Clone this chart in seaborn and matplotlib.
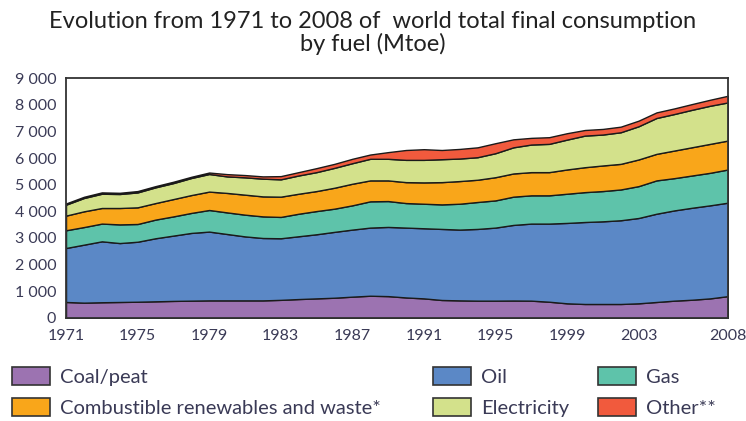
import numpy as np
import pandas as pd
import seaborn as sns
import matplotlib
matplotlib.use("Agg")
import matplotlib.pyplot as plt
from matplotlib.patches import Patch

years = list(range(1971, 2009))

# Mtoe per fuel
coal = [600, 575, 590, 600, 610, 625, 640, 650, 660, 660, 660, 660, 680, 710,
        735, 760, 800, 835, 820, 770, 735, 675, 660, 650, 650, 655, 650, 610,
        550, 525, 525, 525, 550, 600, 650, 685, 735, 820]
oil = [2025, 2175, 2285, 2210, 2250, 2365, 2450, 2540, 2580, 2490, 2400, 2340,
       2310, 2355, 2405, 2470, 2515, 2555, 2595, 2620, 2630, 2665, 2655, 2690,
       2740, 2835, 2890, 2930, 3015, 3075, 3100, 3140, 3200, 3310, 3385, 3450,
       3490, 3505]
gas = [665, 660, 665, 700, 665, 700, 720, 750, 810, 810, 815, 810, 800, 845,
       870, 870, 910, 985, 970, 920, 920, 920, 970, 1010, 1020, 1060, 1060,
       1060, 1095, 1120, 1135, 1155, 1195, 1250, 1210, 1210, 1220, 1245]
renewables = [550, 590, 585, 615, 625, 620, 650, 670, 690, 730, 750, 750, 760,
              750, 750, 785, 810, 785, 775, 785, 800, 835, 850, 835, 870, 870,
              870, 870, 910, 935, 960, 960, 1000, 995, 1035, 1060, 1085, 1085]
electricity = [410, 500, 535, 525, 560, 590, 600, 640, 660, 620, 650, 665, 650,
               685, 710, 745, 770, 810, 810, 835, 845, 860, 845, 845, 900, 980,
               1035, 1060, 1120, 1185, 1160, 1185, 1245, 1345, 1370, 1405, 1430,
               1430]
other = [45, 45, 50, 45, 50, 45, 50, 45, 55, 85, 85, 85, 120, 125, 150, 150,
         165, 160, 250, 370, 400, 345, 360, 370, 375, 300, 250, 250, 240, 210,
         210, 210, 210, 210, 210, 215, 225, 250]

fuels = ["Coal/peat", "Oil", "Gas", "Combustible renewables and waste*",
         "Electricity", "Other**"]
colors = ["#9c73b1", "#5b88c6", "#5ec3aa", "#f9a61a", "#d3e18b", "#f15a3d"]
label_years = [1971, 1975, 1979, 1983, 1987, 1991, 1995, 1999, 2003, 2008]
yticks = list(range(0, 10000, 1000))

df = pd.DataFrame({"year": years, fuels[0]: coal, fuels[1]: oil, fuels[2]: gas,
                   fuels[3]: renewables, fuels[4]: electricity, fuels[5]: other})

sns.set_style("white")
plt.rcParams["font.family"] = ["Lato", "DejaVu Sans"]
txt = "#3a3a56"

fig = plt.figure(figsize=(7.46, 4.21), dpi=100)
ax = fig.add_axes([0.0885, 0.2447, 0.8874, 0.570])

ax.stackplot(df["year"], [df[f] for f in fuels], colors=colors,
             edgecolor="#1a1a1a", linewidth=1.0)
ax.set_xlim(1971, 2008)
ax.set_ylim(0, 9000)
ax.set_axisbelow(False)

ax.set_xticks(years)
ax.set_xticklabels([str(y) if y in label_years else "" for y in years])
ax.set_yticks(yticks)
ax.set_yticklabels([f"{v:,}".replace(",", " ") for v in yticks])
ax.tick_params(axis="x", direction="in", length=5, width=1.3, color="#1a1a1a",
               labelsize=11.5, labelcolor=txt, pad=8)
ax.tick_params(axis="y", direction="in", length=10, width=1.3, color="#1a1a1a",
               labelsize=11.5, labelcolor=txt, pad=7)
for s in ax.spines.values():
    s.set_color("#333333")
    s.set_linewidth(1.3)

fig.text(0.5, 0.975, "Evolution from 1971 to 2008 of  world total final consumption\nby fuel (Mtoe)",
         ha="center", va="top", fontsize=17, color="#222222", linespacing=1.1)

# legend in three columns, placed like the reference
cols = [(0.016, [0, 3]), (0.580, [1, 4]), (0.801, [2, 5])]
for x0, idx in cols:
    handles = [Patch(facecolor=colors[i], edgecolor="#333333", linewidth=1.2,
                     label=fuels[i]) for i in idx]
    leg = fig.legend(handles=handles, loc="upper left", bbox_to_anchor=(x0, 0.128),
                     frameon=False, fontsize=14.5, handlelength=1.9, handleheight=1.0,
                     handletextpad=0.5, labelspacing=0.6, borderaxespad=0,
                     borderpad=0)
    for t in leg.get_texts():
        t.set_color(txt)

fig.savefig("out.png", dpi=100)
